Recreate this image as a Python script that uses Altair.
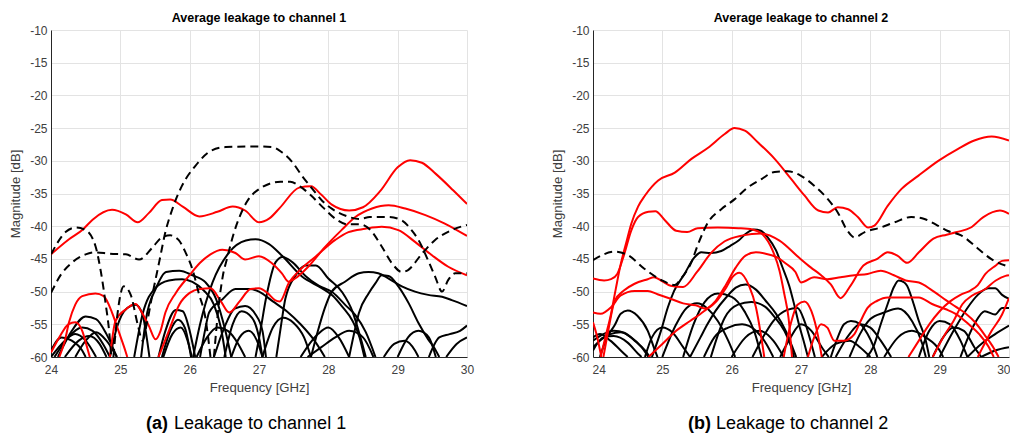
import altair as alt
import pandas as pd

FONT = "Liberation Sans"

# ---------------- axis ticks ----------------
X_TICKS = [24, 25, 26, 27, 28, 29, 30]
Y_TICKS = [-10, -15, -20, -25, -30, -35, -40, -45, -50, -55, -60]

# ---------------- panel (a): leakage to channel 1 ----------------
l_red_top = [(24.0,-44.3),(24.26,-42.0),(24.46,-40.5),(24.6,-39.0),(24.88,-37.5),(25.08,-38.2),(25.25,-39.4),(25.41,-38.0),(25.6,-36.0),(25.72,-35.9),(25.9,-37.0),(26.14,-38.5),(26.4,-37.8),(26.62,-37.0),(26.8,-37.6),(27.0,-39.4),(27.15,-38.8),(27.3,-37.2),(27.58,-34.1),(27.75,-33.9),(27.9,-35.2),(28.05,-36.7),(28.3,-37.6),(28.5,-37.1),(28.75,-34.6),(29.0,-31.0),(29.18,-29.9),(29.35,-30.3),(29.55,-32.0),(29.8,-34.5),(30.0,-36.6)]
l_red_a = [(24.0,-59.3),(24.12,-57.0),(24.25,-55.0),(24.35,-54.7),(24.45,-56.0),(24.52,-58.5),(24.56,-60.0)]
l_red_b = [(24.12,-60.0),(24.2,-57.5),(24.26,-54.7),(24.35,-52.0),(24.45,-50.7),(24.64,-50.3),(24.76,-50.7),(24.88,-53.2),(24.98,-56.2),(25.08,-59.3),(25.1,-60.0)]
l_red_c = [(24.85,-60.0),(24.93,-54.5),(25.08,-52.7),(25.22,-51.9),(25.3,-53.0),(25.41,-55.2),(25.51,-57.3),(25.58,-56.0),(25.65,-53.2),(25.8,-50.2),(25.99,-47.6),(26.15,-45.6),(26.3,-44.3),(26.47,-43.6),(26.66,-44.1),(26.8,-45.1),(27.0,-44.6),(27.19,-45.7),(27.33,-47.2),(27.43,-48.5),(27.52,-48.0),(27.71,-46.2),(27.95,-43.2),(28.19,-40.6),(28.39,-38.6),(28.63,-37.3),(28.87,-36.8),(29.11,-37.3),(29.4,-38.3),(29.68,-39.6),(30.0,-41.5)]
l_red_d = [(25.55,-60.0),(25.7,-56.0),(25.85,-52.0),(26.0,-50.2),(26.15,-49.6),(26.3,-49.5),(26.45,-51.5),(26.57,-53.2),(26.72,-51.5),(26.88,-49.6),(27.0,-49.5),(27.12,-50.2),(27.23,-51.3),(27.3,-51.5),(27.43,-48.7),(27.62,-46.4),(27.81,-44.7),(28.1,-42.1),(28.29,-40.9),(28.53,-40.4),(28.77,-40.1),(29.01,-40.6),(29.25,-42.4),(29.49,-44.4),(29.73,-46.2),(30.0,-47.5)]

l_dash_a = [(24.0,-44.3),(24.21,-40.9),(24.36,-40.2),(24.5,-40.6),(24.64,-43.0),(24.72,-47.0),(24.79,-52.0),(24.84,-56.2),(24.87,-60.0)]
l_dash_b = [(24.0,-50.2),(24.15,-47.3),(24.31,-45.5),(24.5,-44.3),(24.64,-44.0),(24.85,-44.2),(25.08,-44.3),(25.27,-45.1),(25.46,-43.3),(25.6,-41.7),(25.72,-41.4),(25.84,-42.1),(25.94,-44.0),(26.04,-46.6),(26.13,-50.2),(26.23,-54.2),(26.3,-60.0)]
l_dash_big = [(24.9,-60.0),(24.97,-52.5),(25.05,-49.2),(25.15,-50.5),(25.25,-55.0),(25.32,-57.5),(25.38,-55.0),(25.46,-50.6),(25.56,-45.5),(25.65,-40.9),(25.75,-37.4),(25.89,-33.8),(26.08,-30.8),(26.32,-28.4),(26.52,-27.9),(26.98,-27.8),(27.19,-27.9),(27.33,-28.7),(27.48,-30.2),(27.62,-32.3),(27.77,-34.3),(27.91,-36.1),(28.06,-37.4),(28.25,-38.4),(28.45,-38.9),(28.6,-38.6),(28.87,-38.6),(29.06,-39.1),(29.2,-40.6),(29.3,-42.1),(29.45,-45.5),(29.54,-47.7),(29.64,-50.0),(29.73,-48.2),(29.83,-47.2),(30.0,-47.2)]
l_dash_c = [(26.35,-60.0),(26.42,-52.0),(26.48,-47.5),(26.54,-44.9),(26.63,-41.3),(26.73,-38.3),(26.83,-36.2),(27.02,-34.2),(27.31,-33.2),(27.45,-33.2),(27.59,-33.9),(27.74,-35.2),(27.93,-37.2),(28.12,-39.0),(28.27,-39.7),(28.45,-39.7),(28.6,-40.5),(28.77,-43.1),(28.92,-45.7),(29.06,-47.0),(29.15,-46.7),(29.35,-44.2),(29.54,-42.1),(29.78,-40.6),(30.0,-39.8)]

l_blk_1 = [(26.05,-60.0),(26.15,-55.0),(26.33,-48.6),(26.57,-44.0),(26.81,-42.2),(26.95,-42.0),(27.14,-42.7),(27.34,-44.6),(27.62,-47.7),(27.91,-49.5),(28.06,-50.6),(28.2,-52.3),(28.35,-54.5),(28.45,-57.0),(28.52,-60.0)]
l_blk_2 = [(26.95,-60.0),(27.02,-56.0),(27.1,-51.1),(27.24,-45.5),(27.34,-44.7),(27.48,-45.5),(27.67,-47.6),(27.86,-49.1),(28.06,-50.1),(28.25,-52.1),(28.39,-53.6),(28.54,-56.2),(28.68,-60.0)]
l_blk_3 = [(27.25,-60.0),(27.32,-55.0),(27.38,-51.1),(27.53,-47.5),(27.67,-46.0),(27.82,-46.0),(28.0,-48.0),(28.2,-50.1),(28.35,-53.1),(28.45,-56.5),(28.54,-60.0)]
l_blk_4 = [(27.75,-60.0),(27.85,-56.0),(27.95,-52.5),(28.05,-50.0),(28.24,-48.5),(28.44,-47.2),(28.58,-47.0),(28.72,-47.2),(28.87,-48.0),(29.06,-49.2),(29.25,-50.0),(29.44,-50.5),(29.64,-50.8),(29.78,-51.3),(30.0,-52.2)]
l_blk_5 = [(28.3,-60.0),(28.38,-56.0),(28.44,-53.3),(28.58,-50.3),(28.68,-48.7),(28.77,-47.5),(28.87,-47.6),(29.01,-49.2),(29.16,-51.8),(29.3,-54.8),(29.44,-57.3),(29.54,-58.8),(29.6,-60.0)]
l_blk_6 = [(25.3,-60.0),(25.37,-54.2),(25.51,-49.6),(25.66,-47.0),(25.85,-46.8),(26.04,-47.5),(26.23,-48.6),(26.38,-51.1),(26.52,-56.2),(26.6,-60.0)]
l_blk_7 = [(25.2,-60.0),(25.32,-53.5),(25.5,-49.5),(25.7,-48.3),(25.89,-48.1),(26.04,-48.5),(26.2,-49.8),(26.35,-52.0),(26.45,-55.5),(26.52,-60.0)]
l_blk_8 = [(24.85,-60.0),(24.95,-55.5),(25.1,-52.5),(25.22,-52.0),(25.32,-53.5),(25.38,-57.0),(25.42,-60.0)]
l_blk_9 = [(25.55,-60.0),(25.65,-56.0),(25.8,-52.8),(25.9,-53.0),(26.0,-56.0),(26.08,-60.0)]
l_blk_10 = [(25.6,-60.0),(25.72,-56.0),(25.83,-54.3),(25.93,-55.5),(26.02,-60.0)]
l_blk_11 = [(25.62,-60.0),(25.75,-56.5),(25.87,-55.5),(25.97,-57.5),(26.03,-60.0)]
l_blk_12 = [(24.1,-60.0),(24.3,-56.0),(24.5,-53.8),(24.65,-54.2),(24.8,-56.5),(24.95,-60.0)]
l_blk_13 = [(24.05,-60.0),(24.25,-57.0),(24.45,-55.5),(24.6,-56.0),(24.75,-58.0),(24.85,-60.0)]
l_blk_14 = [(24.0,-60.0),(24.2,-57.5),(24.35,-56.5),(24.5,-57.5),(24.65,-60.0)]
l_blk_15 = [(24.2,-60.0),(24.4,-57.5),(24.55,-56.8),(24.7,-58.0),(24.8,-60.0)]
l_blk_16 = [(24.0,-59.0),(24.15,-57.0),(24.3,-57.5),(24.45,-59.0),(24.5,-60.0)]
l_blk_17 = [(24.35,-60.0),(24.5,-57.5),(24.65,-56.2),(24.8,-57.5),(24.95,-60.0)]
l_blk_18 = [(26.15,-60.0),(26.22,-56.0),(26.28,-53.2),(26.47,-51.2),(26.66,-49.6),(26.86,-49.6),(27.0,-50.0),(27.2,-51.5),(27.4,-53.0),(27.6,-55.0),(27.8,-57.5),(27.95,-60.0)]
l_blk_19 = [(26.5,-60.0),(26.62,-55.0),(26.75,-53.0),(26.9,-54.0),(27.0,-57.0),(27.05,-60.0)]
l_blk_20 = [(26.6,-60.0),(26.72,-57.0),(26.85,-56.0),(26.97,-57.5),(27.05,-60.0)]
l_blk_21 = [(27.05,-60.0),(27.2,-55.5),(27.35,-54.0),(27.5,-54.8),(27.65,-57.0),(27.75,-60.0)]
l_blk_22 = [(27.6,-60.0),(27.85,-56.5),(28.0,-55.5),(28.15,-57.0),(28.3,-60.0)]
l_blk_23 = [(28.8,-60.0),(28.95,-58.0),(29.1,-57.5),(29.25,-59.0),(29.3,-60.0)]
l_blk_24 = [(29.45,-60.0),(29.6,-57.0),(29.75,-56.5),(29.9,-56.0),(30.0,-55.2)]
l_blk_25 = [(29.7,-60.0),(29.85,-58.0),(30.0,-57.0)]
l_blk_26 = [(27.7,-60.0),(27.9,-58.5),(28.1,-57.0),(28.3,-56.0),(28.5,-57.0),(28.65,-60.0)]
l_blk_27 = [(29.0,-60.0),(29.15,-57.0),(29.3,-56.0),(29.45,-57.0),(29.55,-60.0)]
l_blk_28 = [(26.1,-60.0),(26.25,-57.0),(26.4,-55.5),(26.55,-56.0),(26.7,-58.0),(26.8,-60.0)]
l_blk_29 = [(26.35,-60.0),(26.5,-55.5),(26.65,-52.6),(26.8,-52.2),(26.95,-53.5),(27.05,-56.0),(27.1,-60.0)]

# ---------------- panel (b): leakage to channel 2 ----------------
r_red_top = [(24.11,-60.0),(24.19,-56.5),(24.26,-53.4),(24.33,-49.5),(24.4,-45.8),(24.48,-42.5),(24.55,-39.7),(24.65,-37.0),(24.75,-35.3),(24.94,-33.0),(25.18,-31.8),(25.42,-29.7),(25.66,-28.0),(25.9,-25.9),(26.04,-25.0),(26.19,-25.4),(26.38,-27.2),(26.62,-29.7),(26.86,-32.8),(27.05,-35.3),(27.25,-37.6),(27.39,-37.9),(27.53,-37.1),(27.68,-37.4),(27.82,-38.6),(27.97,-40.2),(28.06,-39.9),(28.25,-36.9),(28.45,-34.3),(28.69,-32.3),(28.98,-30.0),(29.26,-28.2),(29.5,-26.9),(29.75,-26.3),(30.0,-26.9)]
r_red_b = [(24.0,-48.0),(24.16,-48.3),(24.26,-48.1),(24.35,-47.3),(24.45,-44.3),(24.55,-40.7),(24.65,-38.6),(24.8,-37.8),(24.9,-37.7),(25.03,-39.0),(25.2,-40.7),(25.36,-40.9),(25.51,-40.3),(25.8,-40.2),(26.1,-40.3),(26.3,-40.5),(26.44,-41.2),(26.59,-43.7),(26.69,-46.8),(26.76,-50.4),(26.82,-54.0),(26.87,-60.0)]
r_red_c = [(24.0,-53.2),(24.11,-53.4),(24.26,-52.4),(24.4,-50.6),(24.6,-49.9),(24.79,-49.9),(24.93,-50.4),(25.12,-51.1),(25.3,-51.8),(25.48,-52.1),(25.63,-52.6),(25.77,-51.6),(25.92,-49.4),(26.01,-47.8),(26.11,-47.1),(26.25,-49.1),(26.35,-52.4),(26.42,-56.5),(26.47,-60.0)]
r_red_d = [(24.15,-60.0),(24.22,-56.0),(24.31,-51.5),(24.45,-49.8),(24.6,-48.8),(24.79,-48.1),(24.88,-47.8),(24.98,-48.3),(25.12,-49.1),(25.3,-49.3),(25.5,-47.0),(25.71,-44.0),(25.9,-42.3),(26.16,-41.4),(26.42,-41.1),(26.69,-42.2),(26.97,-44.8),(27.14,-46.3),(27.29,-47.5),(27.43,-48.9),(27.57,-51.0),(27.72,-49.0),(27.9,-46.0),(28.1,-45.0),(28.25,-44.0),(28.39,-44.5),(28.53,-45.6),(28.7,-44.0),(28.91,-41.9),(29.1,-41.3),(29.25,-40.9),(29.45,-40.2),(29.63,-38.6),(29.87,-37.6),(30.0,-38.1)]
r_red_e = [(24.8,-60.0),(25.0,-58.0),(25.2,-56.0),(25.4,-54.5),(25.6,-53.0),(25.77,-51.4),(25.92,-48.9),(26.06,-46.3),(26.2,-44.5),(26.35,-44.0),(26.49,-44.2),(26.64,-44.7),(26.78,-45.7),(26.92,-47.0),(27.0,-48.6),(27.19,-47.8),(27.38,-48.1),(27.57,-47.8),(27.77,-47.5),(27.96,-47.3),(28.15,-46.8),(28.34,-47.5),(28.51,-48.3),(28.7,-48.6),(28.89,-49.8),(29.09,-51.3),(29.23,-52.3),(29.37,-53.3),(29.52,-54.8),(29.66,-56.8),(29.76,-58.3),(29.85,-60.0)]
r_red_f = [(27.1,-60.0),(27.19,-57.0),(27.29,-55.0),(27.38,-55.5),(27.48,-57.5),(27.62,-57.5),(27.77,-56.5),(27.86,-54.5),(27.96,-52.5),(28.1,-51.4),(28.25,-50.9),(28.51,-50.9),(28.7,-50.9),(28.89,-51.9),(29.09,-52.7),(29.23,-53.4),(29.42,-55.0),(29.57,-56.5),(29.71,-58.5),(29.78,-60.0)]
r_red_g = [(28.55,-60.0),(28.7,-57.5),(28.85,-55.0),(29.0,-53.0),(29.15,-51.5),(29.3,-50.5),(29.45,-49.8),(29.55,-49.0),(29.66,-47.3),(29.81,-46.0),(29.9,-45.3),(30.0,-45.2)]
r_red_h = [(28.9,-60.0),(29.05,-57.0),(29.2,-54.5),(29.33,-51.9),(29.47,-50.6),(29.66,-49.6),(29.81,-48.3),(29.95,-47.6),(30.0,-47.5)]
r_red_i = [(29.55,-60.0),(29.75,-56.0),(29.9,-53.5),(30.0,-51.0)]
r_red_l = [(26.75,-60.0),(26.85,-55.0),(26.95,-52.0),(27.05,-51.5),(27.15,-53.0),(27.25,-57.0),(27.3,-60.0)]
r_red_m = [(24.0,-54.7),(24.05,-56.5),(24.12,-60.0)]

r_dash = [(24.0,-45.2),(24.31,-43.9),(24.5,-44.4),(24.74,-46.5),(24.98,-48.2),(25.18,-49.0),(25.27,-48.0),(25.42,-45.5),(25.51,-42.9),(25.66,-39.4),(25.85,-37.4),(26.04,-35.9),(26.23,-34.1),(26.43,-32.8),(26.62,-31.7),(26.81,-31.6),(27.0,-32.3),(27.19,-33.8),(27.39,-35.9),(27.53,-37.9),(27.67,-40.7),(27.77,-41.7),(27.92,-40.9),(28.15,-40.2),(28.35,-39.4),(28.59,-38.6),(28.78,-38.9),(28.97,-39.9),(29.11,-40.7),(29.31,-41.4),(29.55,-43.4),(29.74,-45.0),(30.0,-46.2)]

r_blk_1 = [(24.85,-60.0),(24.98,-56.0),(25.08,-52.4),(25.17,-49.9),(25.32,-47.3),(25.46,-44.8),(25.56,-44.0),(25.7,-44.1),(25.85,-43.8),(25.98,-43.0),(26.1,-42.2),(26.2,-41.2),(26.32,-40.5),(26.42,-40.7),(26.52,-41.7),(26.64,-43.7),(26.73,-46.2),(26.83,-49.1),(26.9,-51.9),(26.97,-55.0),(27.05,-58.0),(27.1,-60.0)]
r_blk_2 = [(25.4,-60.0),(25.55,-57.0),(25.65,-55.0),(25.77,-52.9),(25.92,-50.9),(26.06,-49.4),(26.2,-48.9),(26.35,-49.7),(26.49,-51.4),(26.64,-53.4),(26.78,-56.0),(26.88,-58.6),(26.93,-60.0)]
r_blk_3 = [(25.3,-60.0),(25.45,-55.0),(25.61,-51.6),(25.8,-50.3),(26.0,-50.8),(26.19,-53.1),(26.33,-56.2),(26.43,-60.0)]
r_blk_4 = [(25.7,-60.0),(25.9,-54.0),(26.09,-52.0),(26.28,-51.6),(26.48,-52.3),(26.62,-53.9),(26.76,-56.0),(26.86,-58.5),(26.9,-60.0)]
r_blk_5 = [(24.1,-60.0),(24.2,-57.0),(24.31,-55.2),(24.4,-53.4),(24.5,-52.9),(24.64,-53.7),(24.79,-56.0),(24.88,-58.6),(24.93,-60.0)]
r_blk_6 = [(24.0,-57.5),(24.15,-56.5),(24.3,-56.0),(24.45,-56.3),(24.6,-57.5),(24.75,-59.0),(24.82,-60.0)]
r_blk_7 = [(24.0,-58.5),(24.1,-57.5),(24.25,-56.5),(24.4,-56.2),(24.55,-57.0),(24.7,-58.5),(24.8,-60.0)]
r_blk_8 = [(24.0,-59.0),(24.15,-57.0),(24.3,-56.8),(24.5,-57.8),(24.65,-59.5),(24.7,-60.0)]
r_blk_9 = [(24.0,-57.0),(24.1,-56.5),(24.25,-57.5),(24.4,-59.0),(24.5,-60.0)]
r_blk_10 = [(24.75,-60.0),(24.85,-57.0),(25.0,-55.5),(25.15,-56.3),(25.3,-58.5),(25.4,-60.0)]
r_blk_11 = [(25.0,-60.0),(25.2,-55.0),(25.35,-52.5),(25.5,-51.8),(25.65,-52.6),(25.8,-54.5),(25.95,-57.5),(26.05,-60.0)]
r_blk_12 = [(26.3,-60.0),(26.45,-57.0),(26.6,-54.5),(26.8,-52.8),(26.95,-52.5),(27.05,-54.5),(27.15,-58.0),(27.2,-60.0)]
r_blk_13 = [(27.43,-60.0),(27.53,-57.0),(27.62,-55.0),(27.72,-54.5),(27.86,-55.0),(27.96,-56.5),(28.05,-58.5),(28.1,-60.0)]
r_blk_14 = [(27.95,-60.0),(28.05,-58.3),(28.15,-55.0),(28.25,-51.9),(28.34,-49.3),(28.41,-48.3),(28.49,-48.6),(28.53,-49.1),(28.61,-51.4),(28.7,-54.5),(28.8,-57.5),(28.85,-60.0)]
r_blk_15 = [(29.0,-60.0),(29.2,-56.0),(29.4,-52.5),(29.55,-50.5),(29.7,-49.5),(29.8,-49.5),(29.9,-50.5),(30.0,-51.1)]
r_blk_16 = [(29.3,-60.0),(29.5,-55.0),(29.65,-53.0),(29.8,-53.5),(29.9,-52.5),(30.0,-52.5)]
r_blk_17 = [(29.4,-60.0),(29.6,-58.0),(29.8,-56.5),(30.0,-55.2)]
r_blk_18 = [(29.6,-60.0),(29.8,-59.0),(30.0,-58.5)]
r_blk_19 = [(28.7,-60.0),(28.85,-56.0),(29.0,-54.5),(29.15,-55.0),(29.3,-57.5),(29.4,-60.0)]
r_blk_20 = [(28.9,-60.0),(29.05,-57.0),(29.2,-55.5),(29.35,-56.0),(29.5,-58.5),(29.6,-60.0)]
r_blk_21 = [(27.5,-60.0),(27.7,-56.5),(27.85,-55.0),(28.0,-55.5),(28.15,-57.5),(28.3,-60.0)]
r_blk_22 = [(25.6,-60.0),(25.75,-57.0),(25.95,-55.5),(26.15,-55.0),(26.35,-56.0),(26.5,-58.0),(26.6,-60.0)]
r_blk_23 = [(26.0,-60.0),(26.2,-57.0),(26.4,-56.0),(26.6,-57.5),(26.75,-60.0)]
r_blk_24 = [(26.7,-60.0),(26.85,-57.0),(27.0,-55.0),(27.15,-56.0),(27.3,-58.5),(27.4,-60.0)]
r_blk_25 = [(27.3,-60.0),(27.5,-58.0),(27.7,-57.5),(27.85,-58.5),(28.0,-60.0)]
r_blk_26 = [(27.7,-60.0),(27.85,-56.5),(28.0,-54.2),(28.2,-53.2),(28.4,-52.6),(28.6,-54.5),(28.75,-58.0),(28.8,-60.0)]
r_blk_27 = [(28.2,-60.0),(28.4,-57.0),(28.6,-56.0),(28.8,-57.0),(29.0,-59.0),(29.05,-60.0)]

LEFT_RED = [l_red_top, l_red_a, l_red_b, l_red_c, l_red_d]
LEFT_DASH = [l_dash_a, l_dash_b, l_dash_big, l_dash_c]
LEFT_BLACK = [l_blk_1, l_blk_2, l_blk_3, l_blk_4, l_blk_5, l_blk_6, l_blk_7, l_blk_8, l_blk_9, l_blk_10,
              l_blk_11, l_blk_12, l_blk_13, l_blk_14, l_blk_15, l_blk_16, l_blk_17, l_blk_18, l_blk_19,
              l_blk_20, l_blk_21, l_blk_22, l_blk_23, l_blk_24, l_blk_25, l_blk_26, l_blk_27, l_blk_28, l_blk_29]

RIGHT_RED = [r_red_top, r_red_b, r_red_c, r_red_d, r_red_e, r_red_f, r_red_g, r_red_h, r_red_i, r_red_l, r_red_m]
RIGHT_DASH = [r_dash]
RIGHT_BLACK = [r_blk_1, r_blk_2, r_blk_3, r_blk_4, r_blk_5, r_blk_6, r_blk_7, r_blk_8, r_blk_9, r_blk_10,
               r_blk_11, r_blk_12, r_blk_13, r_blk_14, r_blk_15, r_blk_16, r_blk_17, r_blk_18, r_blk_19,
               r_blk_20, r_blk_21, r_blk_22, r_blk_23, r_blk_24, r_blk_25, r_blk_26, r_blk_27]


def frame(curves, prefix):
    rows = []
    for i, c in enumerate(curves):
        for f, v in c:
            rows.append({"id": f"{prefix}{i}", "f": f, "v": v})
    return pd.DataFrame(rows)


def panel(red, black, dash, title, letter, caption, flush):
    if flush:
        x_axis = alt.Axis(values=X_TICKS, title="Frequency [GHz]", labelFlush=True,
                          labelFlushOffset=1, labelExpr="'' + datum.value")
    else:
        x_axis = alt.Axis(values=X_TICKS, title="Frequency [GHz]", labelFlush=False,
                          labelExpr="'' + datum.value")
    x = alt.X("f:Q", scale=alt.Scale(domain=[24, 30], nice=False, zero=False), axis=x_axis)
    y = alt.Y("v:Q", scale=alt.Scale(domain=[-60, -10], nice=False, zero=False),
              axis=alt.Axis(values=Y_TICKS, title="Magnitude [dB]", labelFlush=False,
                            labelExpr="'' + datum.value"))
    blk = alt.Chart(frame(black, "k")).mark_line(
        color="#000000", strokeWidth=2, clip=True, interpolate="monotone"
    ).encode(x=x, y=y, detail="id:N")
    rd = alt.Chart(frame(red, "r")).mark_line(
        color="#ff0000", strokeWidth=2, clip=True, interpolate="monotone"
    ).encode(x=x, y=y, detail="id:N")
    ds = alt.Chart(frame(dash, "d")).mark_line(
        color="#000000", strokeWidth=2, strokeDash=[8, 5], clip=True, interpolate="monotone"
    ).encode(x=x, y=y, detail="id:N")
    cap1 = alt.Chart(pd.DataFrame({"t": [letter]})).mark_text(
        align="left", baseline="middle", fontSize=18, fontWeight="bold", font=FONT, color="#000000"
    ).encode(x=alt.value(95), y=alt.value(394), text="t:N")
    cap2 = alt.Chart(pd.DataFrame({"t": [caption]})).mark_text(
        align="left", baseline="middle", fontSize=18, font=FONT, color="#000000"
    ).encode(x=alt.value(123), y=alt.value(394), text="t:N")
    return alt.layer(blk, rd, ds, cap1, cap2).properties(
        width=416, height=327,
        title=alt.TitleParams(title, fontSize=12.5, fontWeight="bold", font=FONT,
                              color="#000000", offset=0, anchor="middle"),
    )


left = panel(LEFT_RED, LEFT_BLACK, LEFT_DASH, "Average leakage to channel 1", "(a)",
             "Leakage to channel 1", flush=False)
right = panel(RIGHT_RED, RIGHT_BLACK, RIGHT_DASH, "Average leakage to channel 2", "(b)",
              "Leakage to channel 2", flush=True)

chart = alt.hconcat(left, right, spacing=76).properties(
    padding={"left": 0, "top": 3, "right": 0, "bottom": 0}
).configure_view(strokeWidth=0).configure_axis(
    labelFont=FONT, labelFontSize=12, labelColor="#404040", labelPadding=7,
    titleFont=FONT, titleFontSize=13.2, titleFontWeight="normal", titleColor="#404040",
    gridColor="#e3e3e3", gridWidth=1, domainColor="#262626", domainWidth=1,
    ticks=False,
).configure_axisY(titlePadding=7, labelPadding=4).configure_axisX(titlePadding=6)

chart.save("out.html", embed_options={"renderer": "svg", "actions": False})
